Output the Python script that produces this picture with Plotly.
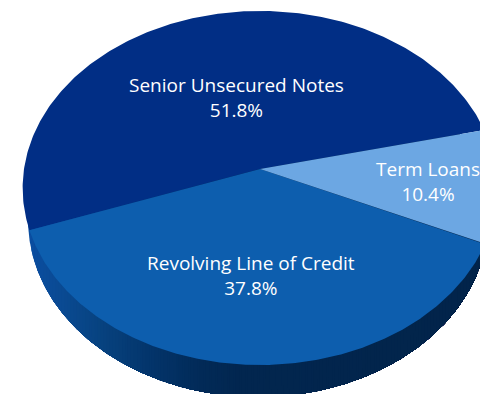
import numpy as np
import plotly.graph_objects as go

# Debt mix, share of total in percent
names = ["Senior Unsecured Notes", "Revolving Line of Credit", "Term Loans"]
shares = [51.8, 37.8, 10.4]
face_colors = ["#012e85", "#0d5eae", "#6ca7e3"]
label_xy = [(236, 97), (251, 275.5), (428, 181.5)]

# Perspective disc: the pie centre sits above the middle of the projected ellipse
CX, CY = 260.0, 169.0
A, B, K = 236.0, 175.0, 0.1073
START_DEG = 13.2

# Lower rim of the disc
RIM_CX, RIM_CY, RIM_RX, RIM_RY = 258.0, 220.0, 230.0, 177.0
rim_stops = [28, 60, 100, 150, 200, 240, 480]
rim_colors = [(10, 77, 160), (10, 74, 146), (7, 66, 127), (3, 52, 106),
              (2, 42, 87), (2, 38, 79), (2, 36, 74)]


def project(theta):
    u, v = np.cos(theta), np.sin(theta)
    w = 1 + K * v
    return CX + A * u / w, CY - B * v / w


fig = go.Figure()

# Rim is painted left to right so each strip overlaps the next one
t = np.linspace(0, 2 * np.pi, 720)
rim_x = RIM_CX + RIM_RX * np.cos(t)
rim_y = RIM_CY + RIM_RY * np.sin(t)
for left in np.arange(rim_stops[0], 481, 3.0):
    keep = rim_x >= left
    order = np.argsort(np.arctan2(rim_y[keep] - RIM_CY, rim_x[keep] - RIM_CX))
    px = np.concatenate(([left], rim_x[keep][order]))
    py = np.concatenate(([RIM_CY], rim_y[keep][order]))
    rgb = [np.interp(left, rim_stops, [c[i] for c in rim_colors]) for i in range(3)]
    fig.add_trace(go.Scatter(
        x=px, y=py, mode="lines", line=dict(width=0), fill="toself",
        fillcolor="rgb({:.0f},{:.0f},{:.0f})".format(*rgb), hoverinfo="skip",
    ))

# Top face: slice angles follow the shares
edge = START_DEG
for name, share, color in zip(names, shares, face_colors):
    sweep = share / sum(shares) * 360.0
    th = np.radians(np.linspace(edge, edge + sweep, 240))
    ex, ey = project(th)
    fig.add_trace(go.Scatter(
        x=np.concatenate(([CX], ex, [CX])), y=np.concatenate(([CY], ey, [CY])),
        mode="lines", line=dict(width=0), fill="toself", fillcolor=color,
        name=name, hoverinfo="name",
    ))
    edge += sweep

for name, share, (lx, ly) in zip(names, shares, label_xy):
    fig.add_annotation(
        x=lx, y=ly, text=f"{name}<br>{share}%", showarrow=False,
        font=dict(family="Open Sans", size=19, color="white"), align="center",
    )

fig.update_layout(
    width=480, height=394, autosize=False, showlegend=False,
    margin=dict(l=0, r=0, t=0, b=0),
    paper_bgcolor="white", plot_bgcolor="white",
    xaxis=dict(range=[0, 480], visible=False, fixedrange=True),
    yaxis=dict(range=[394, 0], visible=False, fixedrange=True),
)
fig.write_html("out.html", config=dict(displayModeBar=False))
